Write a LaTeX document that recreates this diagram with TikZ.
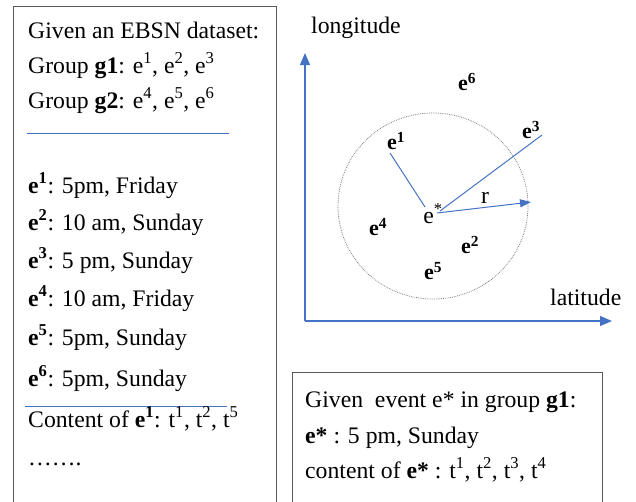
\documentclass[tikz,border=0pt]{standalone}
\usepackage{fontspec}
\setmainfont{Liberation Serif}
\usetikzlibrary{arrows.meta}
\definecolor{obl}{RGB}{68,114,196}
\definecolor{bx}{RGB}{90,90,90}
\begin{document}
\begin{tikzpicture}[x=1pt,y=-1pt,
  txt/.style={anchor=base west,inner sep=0pt,font=\fontsize{23.7}{28}\selectfont},
  lbl/.style={inner sep=0pt,font=\fontsize{22}{26}\selectfont\bfseries},
  boxline/.style={draw=bx,line width=1pt},
  sep/.style={draw=obl,line width=0.9pt},
  conn/.style={draw=obl,line width=1pt},
  axis/.style={draw=obl,line width=1.2pt,-{Triangle[length=12pt,width=10pt]}},
  rarr/.style={draw=obl,line width=1pt,-{Triangle[length=11pt,width=8pt]}}]
\useasboundingbox (0,0) rectangle (636,501);
% left box
\draw[boxline] (13,520) -- (13,6) -- (276,6) -- (276,520);
\node[txt] (l1) at (28,38) {Given an EBSN dataset:};
\node[txt] (l2) at (28,73) {Group \textbf{g1}: e\textsuperscript{1}, e\textsuperscript{2}, e\textsuperscript{3}};
\node[txt] (l3) at (28,108) {Group \textbf{g2}: e\textsuperscript{4}, e\textsuperscript{5}, e\textsuperscript{6}};
\coordinate (s1a) at (27,133); \coordinate (s1b) at (229,133);
\draw[sep] (s1a) -- (s1b);
\node[txt] (l4) at (28,193) {\textbf{e\textsuperscript{1}}: 5pm, Friday};
\node[txt] (l5) at (28,230) {\textbf{e\textsuperscript{2}}: 10 am, Sunday};
\node[txt] (l6) at (28,268) {\textbf{e\textsuperscript{3}}: 5 pm, Sunday};
\node[txt] (l7) at (28,306) {\textbf{e\textsuperscript{4}}: 10 am, Friday};
\node[txt] (l8) at (28,345) {\textbf{e\textsuperscript{5}}: 5pm, Sunday};
\node[txt] (l9) at (28,386) {\textbf{e\textsuperscript{6}}: 5pm, Sunday};
\coordinate (s2a) at (25,406); \coordinate (s2b) at (227,406);
\draw[sep] (s2a) -- (s2b);
\node[txt] (l10) at (28,427) {Content of \textbf{e\textsuperscript{1}}: t\textsuperscript{1}, t\textsuperscript{2}, t\textsuperscript{5}};
\node[txt] (l11) at (28,465) {\ldots\ldots.};
% axes
\coordinate (o) at (305,321);
\coordinate (yt) at (305,53);
\coordinate (xt) at (612,321);
\draw[axis] (o) -- (yt);
\draw[axis] (o) -- (xt);
\node[txt] (lon) at (311,33) {longitude};
\node[txt] (lat) at (550,305) {latitude};
% circle
\draw[gray,densely dotted,line width=0.8pt] (433,206) ellipse [x radius=95, y radius=93];
% event labels
\node[lbl] (e6) at (467,82) {e\textsuperscript{6}};
\node[lbl] (e3) at (531,130) {e\textsuperscript{3}};
\node[lbl] (e1) at (396,141) {e\textsuperscript{1}};
\node[lbl] (e4) at (378,227) {e\textsuperscript{4}};
\node[lbl] (e2) at (470,245) {e\textsuperscript{2}};
\node[lbl] (e5) at (433,271) {e\textsuperscript{5}};
\node[inner sep=0pt,font=\fontsize{23.7}{28}\selectfont] (es) at (433,214) {e\textsuperscript{*}};
\coordinate (c1) at (390,153);
\coordinate (c3) at (542,135);
\coordinate (es1) at (425,207);
\coordinate (es3) at (440,211);
\coordinate (esr) at (437,213);
\coordinate (rt) at (531,202);
\draw[conn] (c1) -- (es1);
\draw[conn] (es3) -- (c3);
\draw[rarr] (esr) -- (rt);
\node[inner sep=0pt,font=\fontsize{23.7}{28}\selectfont] (r) at (485,198) {r};
% bottom right box
\draw[boxline] (292,520) -- (292,372) -- (602,372) -- (602,520);
\node[txt] (b1) at (305,407) {Given\ \ event e* in group \textbf{g1}:};
\node[txt] (b2) at (305,443) {\textbf{e*} : 5 pm, Sunday};
\node[txt] (b3) at (305,478) {content of \textbf{e*} : t\textsuperscript{1}, t\textsuperscript{2}, t\textsuperscript{3}, t\textsuperscript{4}};
\end{tikzpicture}
\end{document}
